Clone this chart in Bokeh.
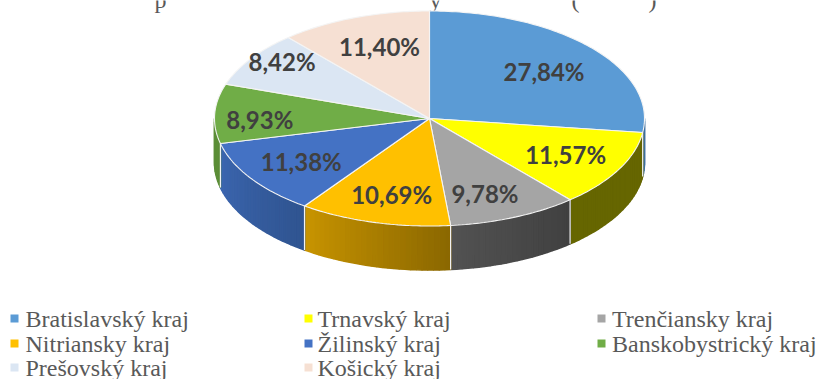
import math
from bokeh.plotting import figure
from bokeh.embed import file_html
from bokeh.resources import INLINE
from bokeh.core.properties import value

categories = ["Bratislavský kraj", "Trnavský kraj", "Trenčiansky kraj", "Nitriansky kraj",
              "Žilinský kraj", "Banskobystrický kraj", "Prešovský kraj", "Košický kraj"]
shares = [27.84, 11.57, 9.78, 10.69, 11.38, 8.93, 8.42, 11.40]
# only the descenders of the cropped title are legible in the reference
title_glyphs = ["p", "y", "(", ")"]
title_x = [160, 435, 575, 652]

top_colors = ["#5B9BD5", "#FFFF00", "#A5A5A5", "#FFC000", "#4472C4", "#70AD47", "#DBE6F3", "#F6E0D3"]
side_left = ["#3F6F9E", "#666600", "#525252", "#C89400", "#3C66B0", "#5C8E38", "#DBE6F3", "#F6E0D3"]
side_right = ["#3F6F9E", "#666600", "#404040", "#8A6700", "#2F5490", "#5C8E38", "#DBE6F3", "#F6E0D3"]
label_radius = [0.69, 0.73, 0.76, 0.70, 0.68, 0.79, 0.87, 0.69]
label_dx = [3, -2, -9, 1, -7, 0, 8, 2]
label_dy = [2, -1, 0, 3, 2, 5, -5, -3]
legend_x = [10, 304, 597]
legend_text_x = [25, 317, 611.5]
legend_y = [318, 343, 367]

CX, CY, RX, RY, DEPTH = 429, 118, 215, 107.5, 44
W, H = 818, 379

p = figure(width=W, height=H, x_range=(0, W), y_range=(H, 0),
           output_backend="svg", toolbar_location=None, min_border=0,
           x_axis_type=None, y_axis_type=None, outline_line_color=None)
p.grid.visible = False


def warp(deg):
    # the slanted view pulls the right-hand boundaries slightly forward
    return deg - 2.7 * max(0.0, min(1.0, deg / 60) * min(1.0, (215 - deg) / 30))


def pt(deg, dz=0.0):
    a = math.radians(deg)
    return CX + RX * math.sin(a), CY - RY * math.cos(a) + dz


def lerp_hex(c1, c2, t):
    a = [int(c1[i:i + 2], 16) for i in (1, 3, 5)]
    b = [int(c2[i:i + 2], 16) for i in (1, 3, 5)]
    return "#%02x%02x%02x" % tuple(round(x + (y - x) * t) for x, y in zip(a, b))


total = sum(shares)
cum = [0.0]
for v in shares:
    cum.append(cum[-1] + v)
edges = [warp(c / total * 360) for c in cum]

p.text(title_x, [-1] * len(title_x), text=title_glyphs, text_font=value("Liberation Serif"),
       text_font_size="24px", text_color="#595959", text_align="center", text_baseline="alphabetic")

# outer wall (front half only), thin strips for the shading
for i in range(len(shares)):
    a0, a1 = max(edges[i], 90), min(edges[i + 1], 270)
    if a1 <= a0:
        continue
    n = max(1, int((a1 - a0) / 1.5))
    for k in range(n):
        s0, s1 = a0 + (a1 - a0) * k / n, a0 + (a1 - a0) * (k + 1) / n
        x0, y0 = pt(s0)
        x1, y1 = pt(s1)
        col = lerp_hex(side_right[i], side_left[i], (k + 0.5) / n)
        p.patch([x0, x1, x1, x0], [y0, y1, y1 + DEPTH, y0 + DEPTH],
                fill_color=col, line_color=col, line_width=1.6)

# white seams on the wall
for e in edges[:-1]:
    if 90 < e < 270:
        x, y = pt(e)
        p.line([x, x], [y, y + DEPTH], line_color="#F2F2F2", line_width=1.2)

# top face
for i in range(len(shares)):
    n = max(2, int(edges[i + 1] - edges[i]))
    pts = [pt(edges[i] + (edges[i + 1] - edges[i]) * k / n) for k in range(n + 1)]
    xs = [CX] + [q[0] for q in pts]
    ys = [CY] + [q[1] for q in pts]
    p.patch(xs, ys, fill_color=top_colors[i], line_color="#F4F4F4", line_width=1.1)

# value labels
lx, ly, lt = [], [], []
for i, v in enumerate(shares):
    m = math.radians((edges[i] + edges[i + 1]) / 2)
    lx.append(CX + RX * label_radius[i] * math.sin(m) + label_dx[i])
    ly.append(CY - RY * label_radius[i] * math.cos(m) + label_dy[i])
    lt.append(f"{v:.2f}%".replace(".", ","))
p.text(lx, ly, text=lt, text_font=value("Lato"), text_font_style="bold",
       text_font_size="24px", text_color="#404040",
       text_align="center", text_baseline="middle")

# legend
mx, my, mc, tx, ty = [], [], [], [], []
for i, name in enumerate(categories):
    col, row = i % 3, i // 3
    mx.append(legend_x[col] + 4)
    my.append(legend_y[row])
    mc.append(top_colors[i])
    tx.append(legend_text_x[col])
    ty.append(legend_y[row])
p.scatter(mx, my, size=8, marker="square", fill_color=mc, line_color=None)
p.text(tx, ty, text=categories, text_font=value("Liberation Serif"), text_font_size="24px",
       text_color="#595959", text_align="left", text_baseline="middle")

open("out.html", "w").write(file_html(p, INLINE))
